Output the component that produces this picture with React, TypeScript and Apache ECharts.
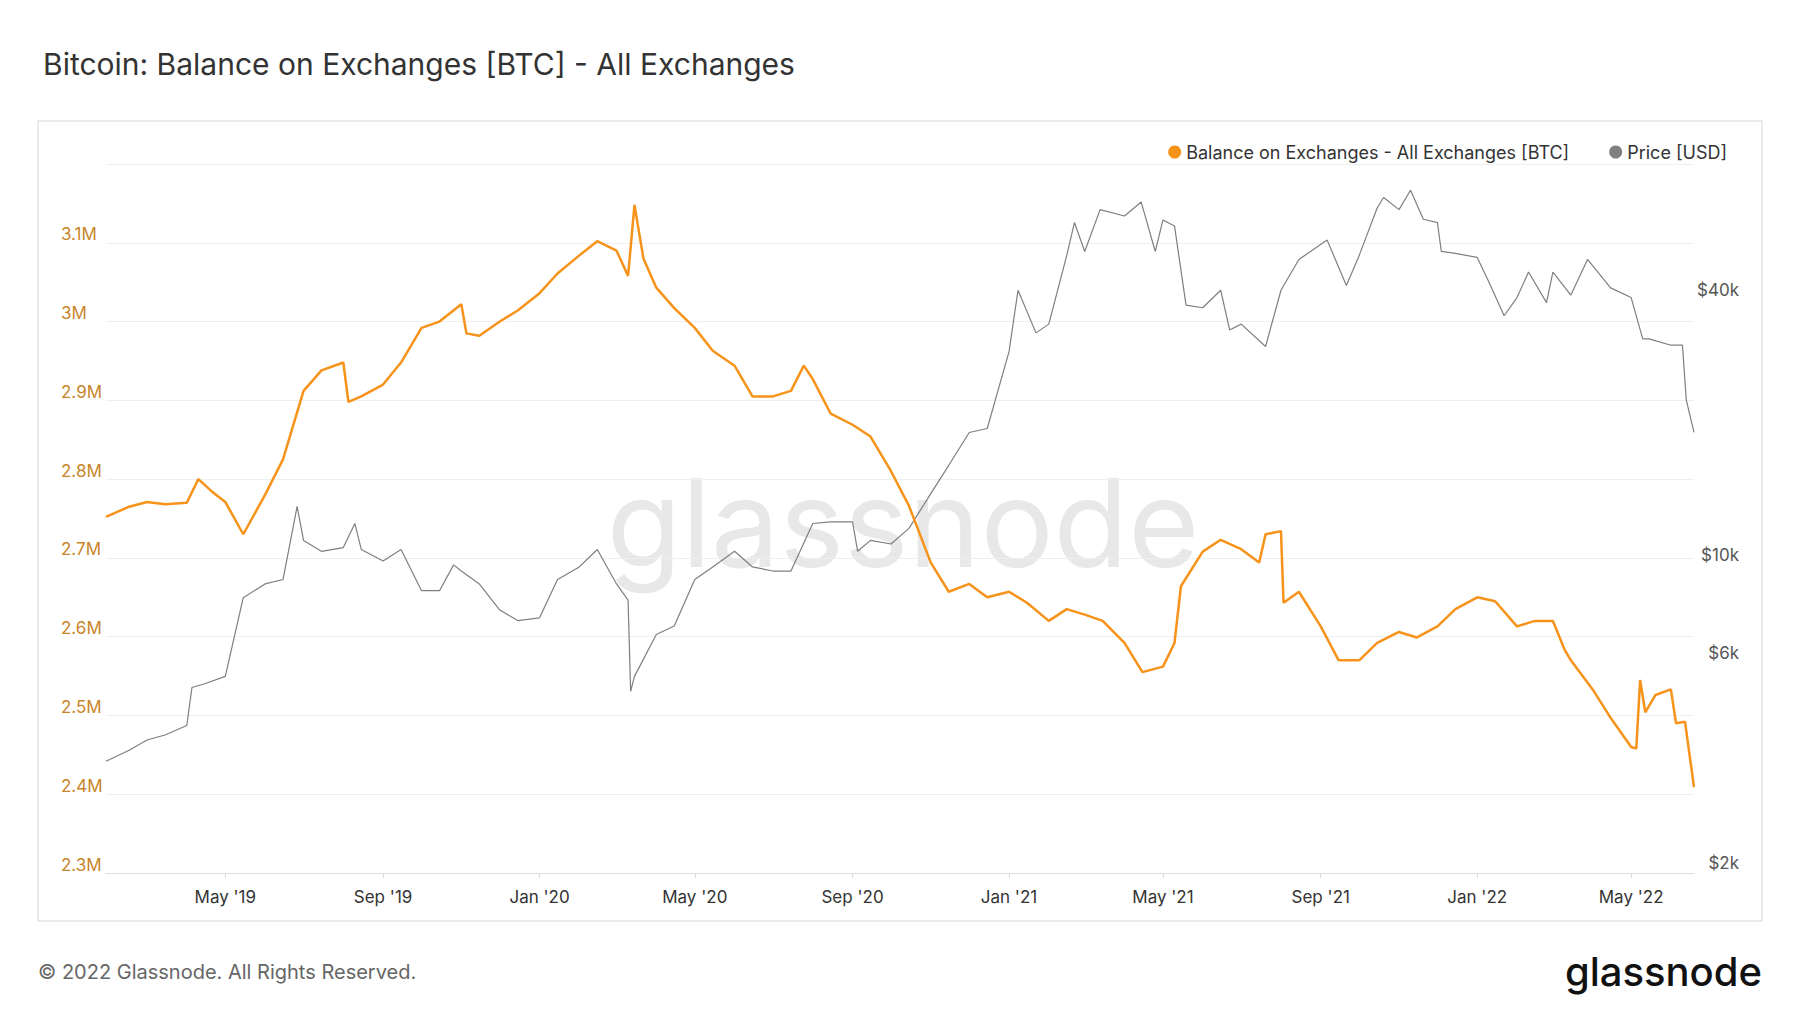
import React, { useEffect, useRef } from "react";
import * as echarts from "echarts";

// balance on exchanges [BTC]
const balanceDates = [
  "2019-01-28", "2019-02-15", "2019-03-01", "2019-03-15", "2019-04-01", "2019-04-10", "2019-04-20", "2019-05-01",
  "2019-05-15", "2019-06-01", "2019-06-15", "2019-07-01", "2019-07-15", "2019-08-01", "2019-08-05", "2019-08-15",
  "2019-09-01", "2019-09-15", "2019-10-01", "2019-10-15", "2019-11-01", "2019-11-05", "2019-11-15", "2019-12-01",
  "2019-12-15", "2020-01-01", "2020-01-15", "2020-02-01", "2020-02-15", "2020-03-01", "2020-03-10", "2020-03-15",
  "2020-03-22", "2020-04-01", "2020-04-15", "2020-05-01", "2020-05-15", "2020-06-01", "2020-06-15", "2020-07-01",
  "2020-07-15", "2020-07-25", "2020-08-01", "2020-08-15", "2020-09-01", "2020-09-15", "2020-10-01", "2020-10-15",
  "2020-11-01", "2020-11-15", "2020-12-01", "2020-12-15", "2021-01-01", "2021-01-15", "2021-02-01", "2021-02-15",
  "2021-03-01", "2021-03-15", "2021-04-01", "2021-04-15", "2021-05-01", "2021-05-10", "2021-05-15", "2021-06-01",
  "2021-06-15", "2021-07-01", "2021-07-15", "2021-07-20", "2021-08-01", "2021-08-03", "2021-08-15", "2021-09-01",
  "2021-09-15", "2021-10-01", "2021-10-15", "2021-11-01", "2021-11-15", "2021-12-01", "2021-12-15", "2022-01-01",
  "2022-01-15", "2022-02-01", "2022-02-15", "2022-03-01", "2022-03-10", "2022-03-15", "2022-04-01", "2022-04-15",
  "2022-05-01", "2022-05-05", "2022-05-08", "2022-05-12", "2022-05-20", "2022-06-01", "2022-06-05", "2022-06-12",
  "2022-06-19",
];
const balanceValues = [
  2752, 2765, 2771, 2768, 2770, 2800, 2785, 2771,
  2730, 2780, 2825, 2912, 2938, 2948, 2898, 2905,
  2920, 2948, 2992, 3000, 3022, 2985, 2982, 3000,
  3014, 3036, 3061, 3084, 3102, 3090, 3058, 3148,
  3080, 3043, 3017, 2992, 2963, 2944, 2905, 2905,
  2912, 2944, 2927, 2883, 2869, 2854, 2810, 2766,
  2694, 2657, 2667, 2650, 2657, 2643, 2620, 2635,
  2628, 2620, 2592, 2555, 2562, 2592, 2664, 2708,
  2723, 2711, 2694, 2730, 2734, 2643, 2657, 2613,
  2570, 2570, 2592, 2606, 2599, 2613, 2635, 2650,
  2645, 2613, 2620, 2620, 2584, 2570, 2533, 2497,
  2460, 2458, 2545, 2504, 2526, 2533, 2490, 2492,
  2409,
].map((v) => v * 1000);

// price [USD]
const priceDates = [
  "2019-01-28", "2019-02-15", "2019-03-01", "2019-03-15", "2019-04-01", "2019-04-05", "2019-04-15", "2019-05-01",
  "2019-05-15", "2019-06-01", "2019-06-15", "2019-06-26", "2019-07-01", "2019-07-15", "2019-08-01", "2019-08-10",
  "2019-08-15", "2019-09-01", "2019-09-15", "2019-10-01", "2019-10-15", "2019-10-26", "2019-11-01", "2019-11-15",
  "2019-12-01", "2019-12-15", "2020-01-01", "2020-01-15", "2020-02-01", "2020-02-15", "2020-03-01", "2020-03-10",
  "2020-03-12", "2020-03-15", "2020-04-01", "2020-04-15", "2020-05-01", "2020-05-15", "2020-06-01", "2020-06-15",
  "2020-07-01", "2020-07-15", "2020-08-01", "2020-08-15", "2020-09-01", "2020-09-05", "2020-09-15", "2020-10-01",
  "2020-10-15", "2020-11-01", "2020-11-15", "2020-12-01", "2020-12-15", "2021-01-01", "2021-01-08", "2021-01-22",
  "2021-02-01", "2021-02-15", "2021-02-21", "2021-03-01", "2021-03-13", "2021-04-01", "2021-04-14", "2021-04-25",
  "2021-05-01", "2021-05-10", "2021-05-19", "2021-06-01", "2021-06-15", "2021-06-22", "2021-07-01", "2021-07-20",
  "2021-08-01", "2021-08-15", "2021-09-06", "2021-09-21", "2021-10-01", "2021-10-15", "2021-10-20", "2021-11-01",
  "2021-11-10", "2021-11-20", "2021-12-01", "2021-12-04", "2021-12-15", "2022-01-01", "2022-01-10", "2022-01-22",
  "2022-02-01", "2022-02-10", "2022-02-24", "2022-03-01", "2022-03-15", "2022-03-28", "2022-04-15", "2022-05-01",
  "2022-05-10", "2022-05-15", "2022-06-01", "2022-06-10", "2022-06-13", "2022-06-19",
];
const priceValues = [
  3400, 3600, 3800, 3900, 4100, 5000, 5100, 5300,
  8000, 8600, 8800, 12900, 10800, 10200, 10400, 11800,
  10300, 9700, 10300, 8300, 8300, 9500, 9200, 8600,
  7500, 7100, 7200, 8800, 9400, 10300, 8600, 7900,
  4900, 5300, 6600, 6900, 8800, 9400, 10200, 9400,
  9200, 9200, 11800, 11900, 11900, 10200, 10800, 10600,
  11500, 13800, 16000, 19000, 19400, 29000, 40000, 32000,
  33500, 48000, 57000, 49000, 61000, 59000, 63500, 49000,
  57800, 56000, 37000, 36500, 40000, 32500, 33500, 29800,
  40000, 47000, 52000, 41000, 48000, 61500, 65000, 61000,
  67500, 58000, 57000, 49000, 48500, 47500, 41800, 35000,
  38500, 44000, 37500, 44000, 39000, 47000, 40500, 38500,
  31000, 31000, 30000, 30000, 22500, 19000,
];

const xLabelDates = [
  "2019-05-01", "2019-09-01", "2020-01-01", "2020-05-01", "2020-09-01", "2021-01-01",
  "2021-05-01", "2021-09-01", "2022-01-01", "2022-05-01",
];
const priceTicks = [2000, 6000, 10000, 40000];

const MONTHS = ["Jan", "Feb", "Mar", "Apr", "May", "Jun", "Jul", "Aug", "Sep", "Oct", "Nov", "Dec"];
const ts = (d: string) => new Date(d + "T00:00:00Z").getTime();

const App: React.FC = () => {
  const ref = useRef<HTMLDivElement>(null);

  useEffect(() => {
    document.body.style.margin = "0";
    const chart = echarts.init(ref.current, null, { renderer: "svg" });
    const font = "Inter, 'Open Sans', sans-serif";
    const xTicks = xLabelDates.map(ts);
    chart.setOption({
      animation: false,
      backgroundColor: "#fff",
      textStyle: { fontFamily: font },
      title: {
        text: "Bitcoin: Balance on Exchanges [BTC] - All Exchanges",
        left: 38,
        top: 44,
        textStyle: { fontSize: 30, fontWeight: "normal", color: "#333", fontFamily: font },
      },
      legend: {
        right: 68,
        top: 138,
        itemWidth: 13,
        itemHeight: 13,
        itemGap: 40,
        icon: "circle",
        textStyle: { fontSize: 18, color: "#333", fontFamily: font },
        data: ["Balance on Exchanges - All Exchanges [BTC]", "Price [USD]"],
      },
      graphic: [
        {
          type: "rect",
          z: -10,
          shape: { x: 38, y: 121, width: 1724, height: 800 },
          style: { fill: "#fff", stroke: "#e4e4e4", lineWidth: 1.5 },
        },
        {
          type: "text",
          z: -5,
          x: 903,
          y: 522,
          style: {
            text: "glassnode",
            fontSize: 122,
            fontFamily: font,
            fill: "#e8e8e8",
            align: "center",
            verticalAlign: "middle",
          },
        },
        {
          type: "text",
          x: 38,
          y: 972,
          style: {
            text: "© 2022 Glassnode. All Rights Reserved.",
            fontSize: 20,
            fontFamily: font,
            fill: "#666",
            verticalAlign: "middle",
          },
        },
        {
          type: "text",
          x: 1762,
          y: 971,
          style: {
            text: "glassnode",
            fontSize: 40,
            fontWeight: 500,
            fontFamily: font,
            fill: "#111",
            align: "right",
            verticalAlign: "middle",
          },
        },
      ],
      grid: { left: 106, right: 106, top: 164, bottom: 140 },
      xAxis: {
        type: "value",
        min: ts("2019-01-28"),
        max: ts("2022-06-19"),
        axisLine: { lineStyle: { color: "#dddddd" } },
        axisTick: { show: true, customValues: xTicks, length: 5, lineStyle: { color: "#dddddd" } },
        splitLine: { show: false },
        axisLabel: {
          customValues: xTicks,
          fontSize: 17,
          color: "#333",
          margin: 15,
          formatter: (v: number) => {
            const d = new Date(v);
            return MONTHS[d.getUTCMonth()] + " '" + String(d.getUTCFullYear()).slice(2);
          },
        },
      },
      yAxis: [
        {
          type: "value",
          min: 2300000,
          max: 3200000,
          interval: 100000,
          axisLine: { show: false },
          axisTick: { show: false },
          splitLine: { lineStyle: { color: "#efefef" } },
          axisLabel: {
            fontSize: 17,
            color: "#c8852a",
            align: "left",
            margin: 45,
            verticalAlign: "bottom",
            formatter: (v: number) =>
              v >= 3200000 ? "" : String(+(v / 1e6).toFixed(1)) + "M",
          },
        },
        {
          type: "log",
          logBase: 10,
          min: 1894,
          max: 77450,
          position: "right",
          axisLine: { show: false },
          axisTick: { show: false },
          splitLine: { show: false },
          axisLabel: {
            customValues: priceTicks,
            fontSize: 17,
            color: "#555",
            align: "right",
            margin: 45,
            formatter: (v: number) => "$" + Math.round(v / 1000) + "k",
          },
        },
      ],
      series: [
        {
          name: "Balance on Exchanges - All Exchanges [BTC]",
          type: "line",
          yAxisIndex: 0,
          symbol: "none",
          z: 3,
          color: "#f7931a",
          lineStyle: { width: 2.5, color: "#f7931a" },
          data: balanceDates.map((d, i) => [ts(d), balanceValues[i]]),
        },
        {
          name: "Price [USD]",
          type: "line",
          yAxisIndex: 1,
          symbol: "none",
          z: 2,
          color: "#7f7f7f",
          lineStyle: { width: 1.2, color: "#7f7f7f" },
          data: priceDates.map((d, i) => [ts(d), priceValues[i]]),
        },
      ],
    });
    return () => chart.dispose();
  }, []);

  return <div ref={ref} style={{ width: 1800, height: 1013 }} />;
};

export default App;
